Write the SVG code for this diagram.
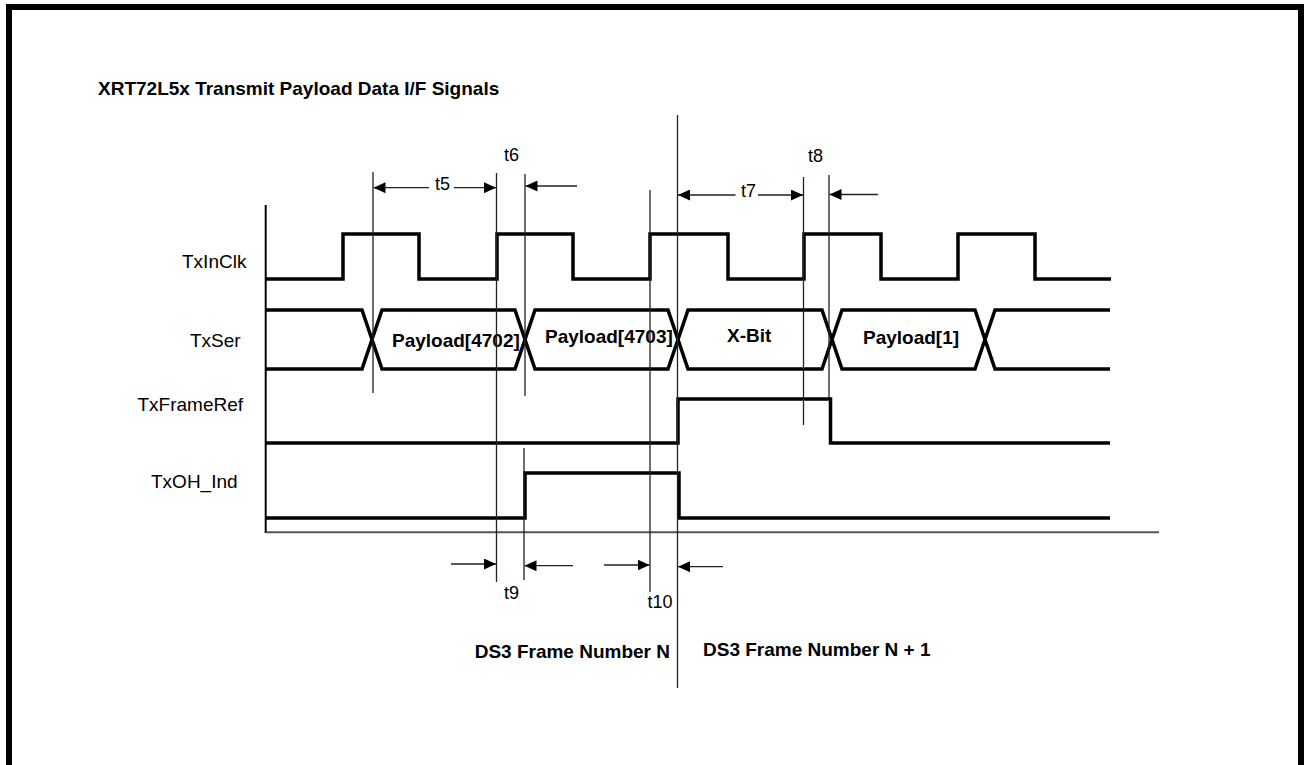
<svg xmlns="http://www.w3.org/2000/svg" width="1305" height="765" viewBox="0 0 1305 765">
<style>
.sig{fill:none;stroke:#000;stroke-width:3.5;stroke-linejoin:miter}
.thin{fill:none;stroke:#222;stroke-width:1.3}
.arr{fill:none;stroke:#222;stroke-width:1.3;marker-end:url(#ah)}
.lbl{font-family:"Liberation Sans",Arial,sans-serif;font-size:19px;fill:#000}
.bold{font-family:"Liberation Sans",Arial,sans-serif;font-size:19px;font-weight:bold;fill:#000}
.t{font-family:"Liberation Sans",Arial,sans-serif;font-size:18px;fill:#000}
</style>
<defs>
<marker id="ah" viewBox="0 0 12 11" refX="12" refY="5.5" markerWidth="12" markerHeight="11" orient="auto" markerUnits="userSpaceOnUse">
<path d="M0,0 L12,5.5 L0,11 z" fill="#000"/>
</marker>
</defs>
<rect x="0" y="0" width="1305" height="765" fill="#fff"/>
<rect x="9" y="7" width="1292" height="790" fill="none" stroke="#000" stroke-width="6"/>
<text class="bold" x="98" y="95">XRT72L5x Transmit Payload Data I/F Signals</text>

<g id="axes">
<line x1="265.7" y1="205" x2="265.7" y2="533" stroke="#000" stroke-width="2"/>
<line x1="266" y1="532.3" x2="1159" y2="532.3" stroke="#555" stroke-width="2"/>
</g>

<g id="TxInClk">
<text class="lbl" x="182" y="268">TxInClk</text>
<path class="sig" d="M266,279 H343 V234 H419 V279 H497 V234 H573 V279 H650 V234 H728 V279 H804 V234 H881 V279 H958 V234 H1035 V279 H1111"/>
</g>

<g id="TxSer">
<text class="lbl" x="190" y="347">TxSer</text>
<path class="sig" d="M266,310 H362 L382,369 H515 L535,310 H668 L688,369 H822 L842,310 H975 L995,369 H1110"/>
<path class="sig" d="M266,369 H362 L382,310 H515 L535,369 H668 L688,310 H822 L842,369 H975 L995,310 H1110"/>
<text class="bold" x="392" y="346.7">Payload[4702]</text>
<text class="bold" x="545" y="342.7">Payload[4703]</text>
<text class="bold" x="727" y="341.7">X-Bit</text>
<text class="bold" x="863" y="344">Payload[1]</text>
</g>

<g id="TxFrameRef">
<text class="lbl" x="137.5" y="411">TxFrameRef</text>
<path class="sig" d="M266,443 H678 V399 H830.5 V443 H1110"/>
</g>

<g id="TxOH_Ind">
<text class="lbl" x="151" y="488">TxOH_Ind</text>
<path class="sig" d="M266,518 H525 V473 H679 V518 H1110"/>
</g>

<g id="connectors">
<line class="thin" x1="373" y1="172" x2="373" y2="393"/>
<line class="thin" x1="496.5" y1="173" x2="496.5" y2="582"/>
<line class="thin" x1="525" y1="174" x2="525" y2="396"/>
<line class="thin" x1="524" y1="448" x2="524" y2="580"/>
<line class="thin" x1="650" y1="190" x2="650" y2="592"/>
<line class="thin" x1="677.5" y1="115" x2="677.5" y2="688"/>
<line class="thin" x1="803.5" y1="177" x2="803.5" y2="425"/>
<line class="thin" x1="829" y1="175" x2="829" y2="398"/>

<line class="arr" x1="429" y1="187.7" x2="373.5" y2="187.7"/>
<line class="arr" x1="454" y1="187.7" x2="496" y2="187.7"/>
<line class="arr" x1="577" y1="186" x2="525.5" y2="186"/>
<line class="arr" x1="735.5" y1="195" x2="678" y2="195"/>
<line class="arr" x1="758" y1="195" x2="803" y2="195"/>
<line class="arr" x1="878" y1="194.5" x2="829.5" y2="194.5"/>
<line class="arr" x1="451" y1="564" x2="496" y2="564"/>
<line class="arr" x1="573" y1="565.7" x2="524.5" y2="565.7"/>
<line class="arr" x1="604" y1="565" x2="649.5" y2="565"/>
<line class="arr" x1="723" y1="566.7" x2="678" y2="566.7"/>

<text class="t" x="435" y="190">t5</text>
<text class="t" x="504" y="160.5">t6</text>
<text class="t" x="741" y="197.3">t7</text>
<text class="t" x="808" y="161.7">t8</text>
<text class="t" x="504" y="599.3">t9</text>
<text class="t" x="647.5" y="607.5">t10</text>
</g>

<g id="frames">
<text class="bold" x="670" y="658" text-anchor="end">DS3 Frame Number N</text>
<text class="bold" x="703" y="656">DS3 Frame Number N + 1</text>
</g>
</svg>
